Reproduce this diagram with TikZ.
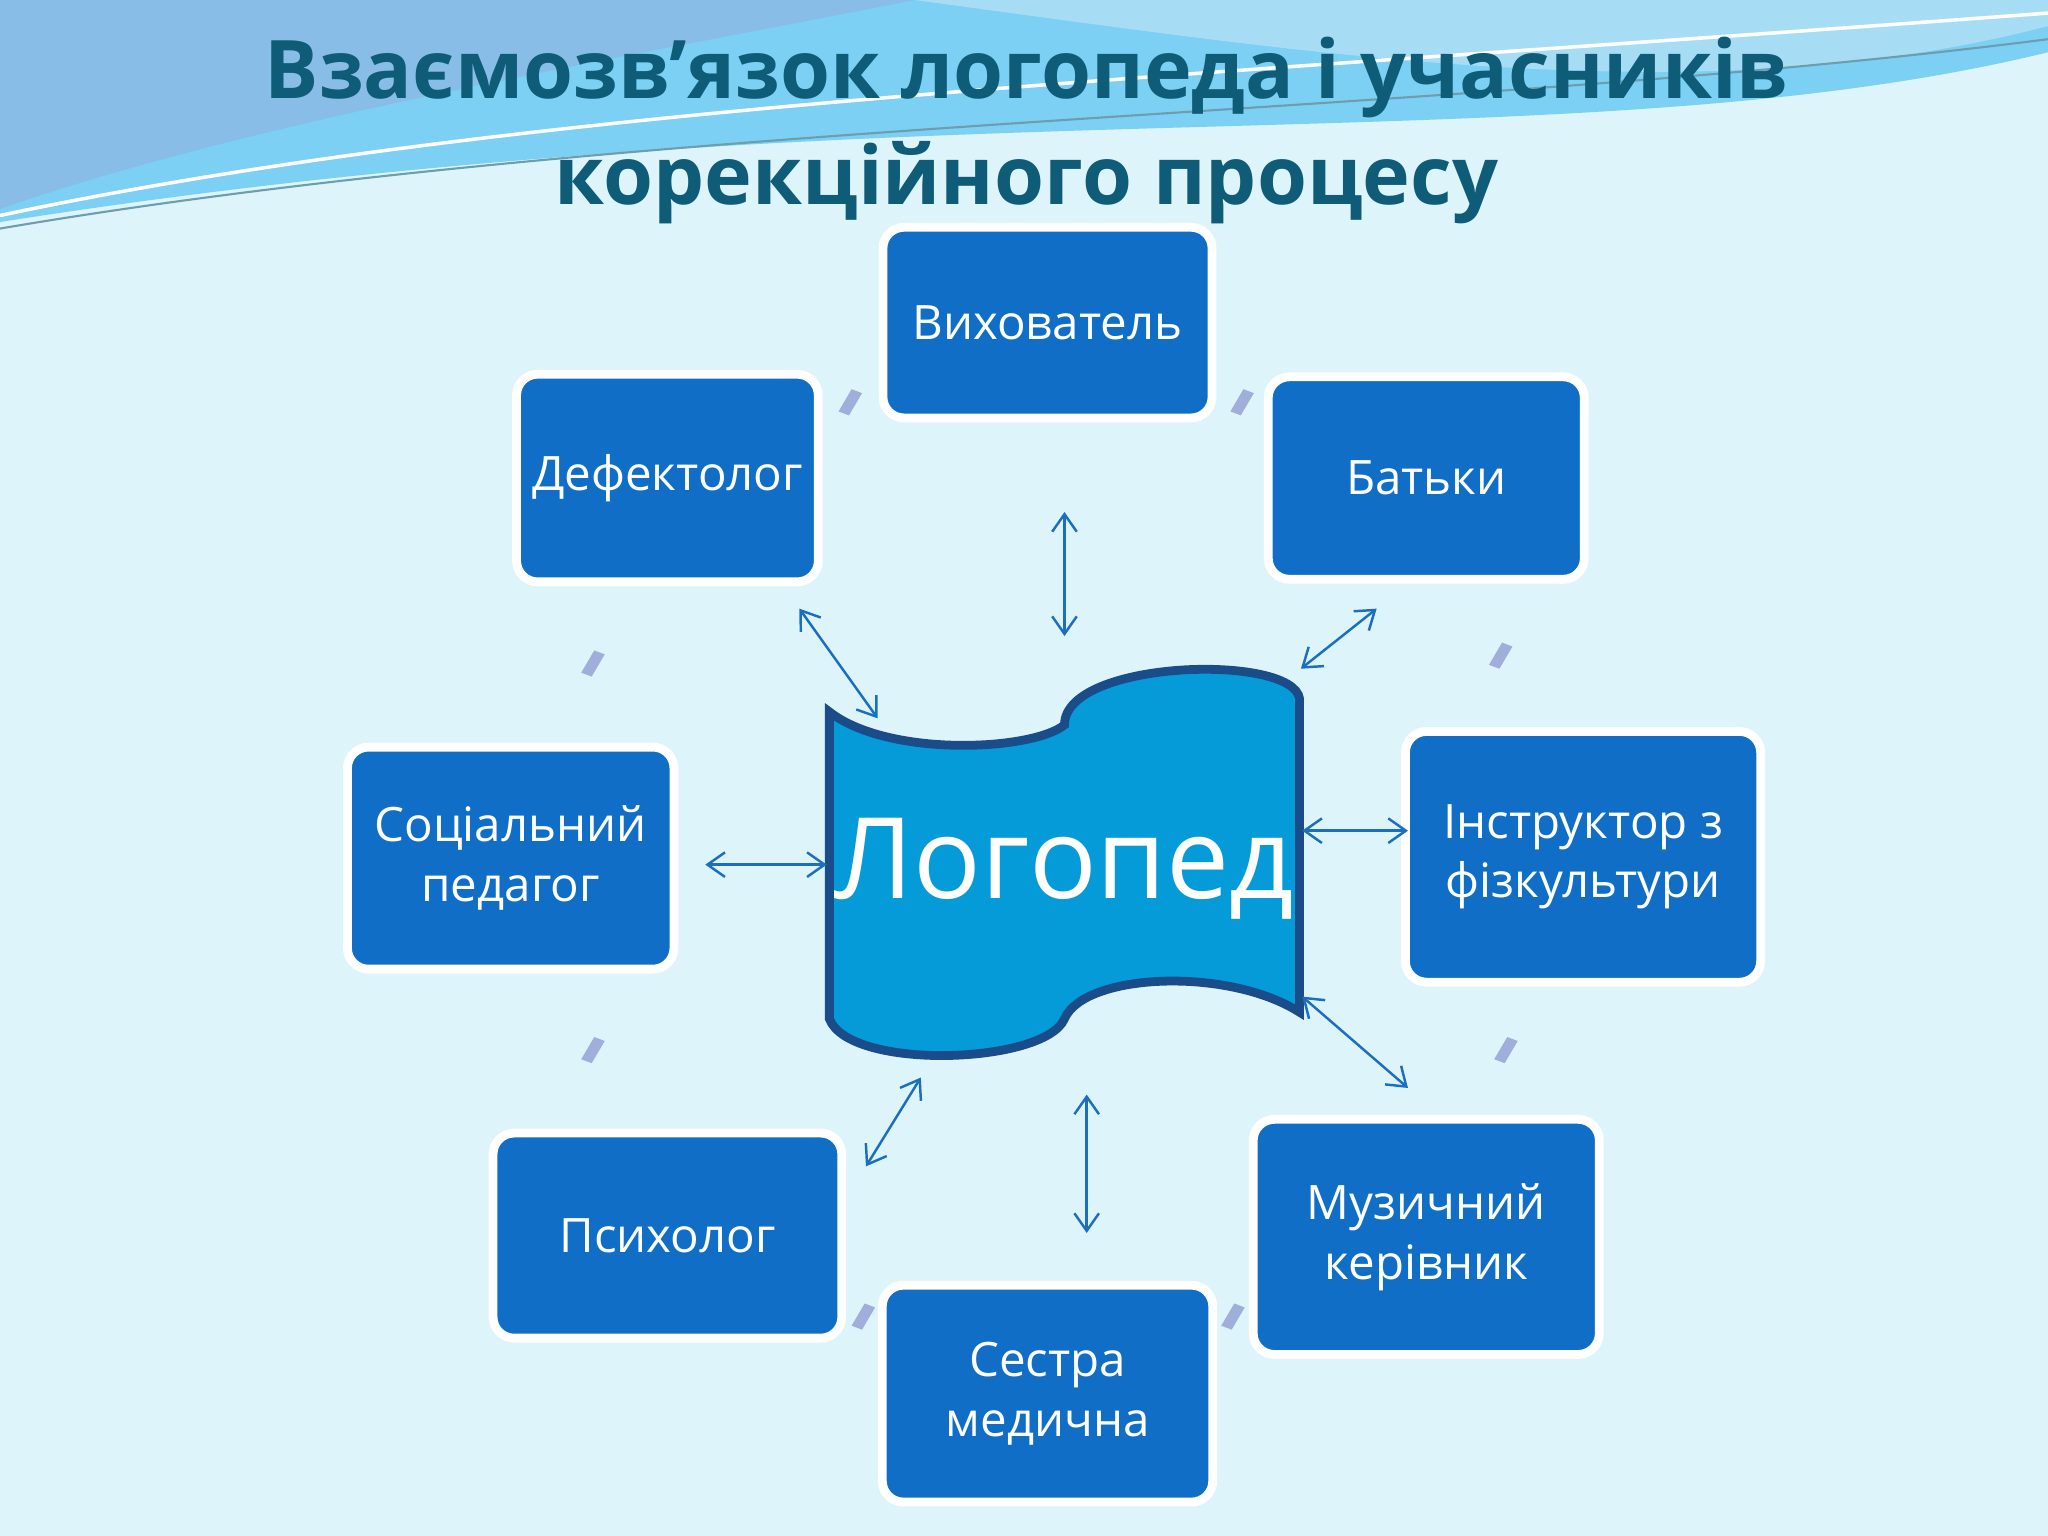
\documentclass[tikz,border=0pt]{standalone}
\usepackage{fontspec}
\setmainfont{Open Sans}
\begin{document}
\begin{tikzpicture}[x=0.013061cm,y=-0.013061cm,
  box/.style={draw=white,line width=2.5pt,fill=boxblue,rounded corners=6pt,text=white,font=\fontsize{13.5}{17}\selectfont,align=center,inner sep=0pt},
  link/.style={draw=arrblue,line width=0.7pt,<->,>={Straight Barb[length=5pt,width=7pt]}},
  dia/.style={fill=diacol,draw=none}]
\usetikzlibrary{arrows.meta}
\definecolor{bg}{HTML}{DDF4FA}
\definecolor{boxblue}{HTML}{106EC6}
\definecolor{arrblue}{HTML}{1C6FC0}
\definecolor{diacol}{HTML}{9FAEDA}
\definecolor{titlec}{HTML}{0E5C78}
\definecolor{logofill}{HTML}{049BD8}
\definecolor{logoedge}{HTML}{1B4C8A}
\useasboundingbox (0,0) rectangle (1568,1176);
\fill[bg] (0,0) rectangle (1568,1176);
% top banner waves
\fill[cyan!45!bg] (0,0) -- (1568,0) -- (1568,40) .. controls (1200,130) and (700,60) .. (0,170) -- cycle;
\fill[cyan!70!blue!40!bg] (0,0) -- (700,0) .. controls (500,40) and (200,90) .. (0,160) -- cycle;
\fill[cyan!25!bg] (700,0) -- (1568,0) -- (1568,20) .. controls (1300,90) and (1000,40) .. (700,0) -- cycle;
\draw[white,line width=1pt] (0,165) .. controls (400,80) and (900,60) .. (1568,10);
\draw[titlec!60,line width=0.6pt] (0,175) .. controls (500,90) and (1100,90) .. (1568,30);
\node[text=titlec,font=\fontsize{23}{30}\selectfont\bfseries,align=center] (title) at (786,100) {Взаємозв’язок логопеда і учасників\\корекційного процесу};
% boxes
\node[box,minimum width=252pt*0.3716,minimum height=146pt*0.3716] (vyh) at (802,247) {Вихователь};
\node[box,minimum width=231pt*0.3716,minimum height=159pt*0.3716] (def) at (511,366) {Дефектолог};
\node[box,minimum width=242pt*0.3716,minimum height=155pt*0.3716] (bat) at (1092,366) {Батьки};
\node[box,minimum width=250pt*0.3716,minimum height=170pt*0.3716] (soc) at (391,657) {Соціальний\\педагог};
\node[box,minimum width=272pt*0.3716,minimum height=192pt*0.3716] (ins) at (1212,656) {Інструктор з\\фізкультури};
\node[box,minimum width=267pt*0.3716,minimum height=157pt*0.3716] (psy) at (511,946) {Психолог};
\node[box,minimum width=253pt*0.3716,minimum height=166pt*0.3716] (ses) at (802,1067) {Сестра\\медична};
\node[box,minimum width=265pt*0.3716,minimum height=180pt*0.3716] (muz) at (1092,947) {Музичний\\керівник};
% logoped
\draw[fill=logofill,draw=logoedge,line width=2.5pt]
 (635,545) .. controls (680,580) and (790,575) .. (815,555)
 .. controls (815,505) and (990,500) .. (995,535)
 -- (995,775) .. controls (940,740) and (830,745) .. (815,780)
 .. controls (800,815) and (650,820) .. (635,780) -- cycle;
\node[text=white,font=\fontsize{32}{36}\selectfont] (log) at (815,665) {Логопед};
% coordinates for arrows
\coordinate (a1) at (815,392); \coordinate (b1) at (815,487);
\coordinate (a2) at (612,466); \coordinate (b2) at (672,550);
\coordinate (a3) at (1054,466); \coordinate (b3) at (996,512);
\coordinate (a4) at (540,662); \coordinate (b4) at (633,662);
\coordinate (a5) at (1078,636); \coordinate (b5) at (997,636);
\coordinate (a6) at (1078,833); \coordinate (b6) at (997,763);
\coordinate (a7) at (663,893); \coordinate (b7) at (705,825);
\coordinate (a8) at (832,944); \coordinate (b8) at (832,838);
\foreach \i in {1,...,8} {\draw[link] (a\i) -- (b\i);}
% diamonds
\foreach \p/\q in {650/308,950/308,453/508,1148/502,453/804,1152/804,660/1008,943/1008}
  {\fill[dia] (\p-8,\q+7) -- (\p+2,\q-10) -- (\p+10,\q-7) -- (\p,\q+10) -- cycle;}
\end{tikzpicture}
\end{document}
